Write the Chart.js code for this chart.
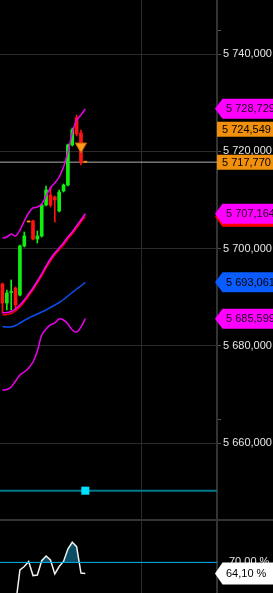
<!DOCTYPE html>
<html><head><meta charset="utf-8">
<script src="https://cdn.jsdelivr.net/npm/chart.js@4/dist/chart.umd.min.js"></script>
<style>
html,body{margin:0;padding:0;background:#000;width:273px;height:593px;overflow:hidden}
#wrap{position:relative;width:273px;height:593px;background:#000}
#c1{position:absolute;left:0;top:0;width:273px;height:519px}
#sep{position:absolute;left:0;top:519px;width:273px;height:2px;background:#333}
#c2{position:absolute;left:0;top:521px;width:273px;height:72px}
</style></head><body>
<div id="wrap">
<canvas id="c1" width="273" height="519"></canvas>
<div id="sep"></div>
<canvas id="c2" width="273" height="72"></canvas>
</div>
<script>
// ---------- data ----------
const candleIndex = [0,1,2,3,4,5,6,7,8,9,10,11,12,13,14,15,16,17,18,19];
const opens  = [5692720,5688820,5690980,5691900,5690460,5700540,5705470,5705670,5701970,5702590,5708960,5711020,5710610,5707730,5711840,5713070,5721300,5726850,5723760,5717770];
const highs  = [5692930,5691490,5693550,5692110,5700740,5703410,5705470,5705880,5703620,5709170,5712870,5712660,5710810,5712050,5713280,5721500,5724790,5727460,5724380,5717900];
const lows   = [5686760,5687380,5687380,5687380,5690260,5700330,5705470,5701770,5701150,5702390,5708760,5708550,5705470,5707520,5711630,5712870,5721090,5723150,5717180,5717700];
const closes = [5688820,5690870,5691080,5688410,5700540,5702590,5705470,5701970,5702590,5708960,5712050,5708960,5709990,5711630,5713070,5721300,5724380,5723560,5717770,5717770];

const upperBand  = [5702180,5702390,5703000,5702590,5703820,5705670,5707320,5708350,5708550,5709170,5710810,5712460,5713480,5714720,5716770,5719860,5723760,5726430,5727460,5728729];
const middleBand = [5686760,5686870,5687070,5687590,5688410,5689440,5690670,5691900,5693340,5694780,5696420,5697860,5699100,5700120,5701150,5702390,5703410,5704650,5705880,5707164];
const redLine    = [5686360,5686470,5686670,5687190,5688010,5689040,5690270,5691500,5692940,5694380,5696020,5697460,5698700,5699720,5700750,5701990,5703010,5704250,5705480,5706560];
const blueLine   = [5683950,5683890,5683890,5684190,5684710,5685220,5685740,5686150,5686560,5686970,5687380,5687890,5688410,5688920,5689540,5690260,5690980,5691700,5692310,5693061];
const lowerBand  = [5670940,5671040,5671550,5672790,5674020,5674640,5675460,5676690,5678950,5682240,5683470,5684300,5684710,5685530,5685320,5684500,5683270,5682860,5683890,5685599];

const oscillator = [null,null,null,47.4,66.0,67.8,70.5,63.0,63.3,70.9,73.4,71.3,63.9,67.8,70.5,77.1,80.7,78.4,64.3,64.1];
const oscLevel = [70];

const priceTicks = [5740000,5720000,5700000,5680000,5660000];
const minorPriceTicks = [5745000,5665000];
const timeGrid = [31.83];
const extraTags = [5724549];
const markerLevel = [5650240];
const markerIndex = [19];
const signalIndex = [18];
const signalValue = [5721030];

// ---------- scale ranges ----------
const xMin = -0.57, xMax = 49.2;
const yMin = 5644420, yMax = 5751100;
const oMin = 53.72, oMax = 92.02;

const FONT = "'Liberation Sans', Arial, sans-serif";
Chart.defaults.font.family = FONT;
Chart.defaults.font.size = 11;

function fmtPrice(v){const s=Math.round(v).toString();return s[0]+' '+s.slice(1,4)+','+s.slice(4);}
function fmtPct(v){return v.toFixed(2).replace('.',',')+' %';}

const GREEN='#10f010', RED='#ff1212', ORANGE='#ff8c00';
const candleColor = candleIndex.map(i => closes[i]>opens[i]?GREEN:(closes[i]<opens[i]?RED:ORANGE));

function drawTag(ctx, area, y, text, bg, fg, shape, hh){
  const r = area.right;
  ctx.save();
  ctx.fillStyle = bg;
  ctx.beginPath();
  if(shape==='arrow'){
    const h=hh||10;
    ctx.moveTo(r-2, y);
    ctx.lineTo(r+5.5, y-h);
    ctx.lineTo(273, y-h);
    ctx.lineTo(273, y+h);
    ctx.lineTo(r+5.5, y+h);
    ctx.closePath();
  } else {
    ctx.rect(r, y-7.5, 273-r, 15);
  }
  ctx.fill();
  if(text){
    ctx.fillStyle = fg;
    ctx.font = '11px '+FONT;
    ctx.textBaseline = 'middle';
    ctx.textAlign = 'left';
    ctx.fillText(text, shape==='arrow'? r+9 : r+5, y+0.5);
  }
  ctx.restore();
}

const priceTagPlugin = {
  id:'priceTags',
  afterDraw(chart){
    const ctx=chart.ctx, y=chart.scales.y, a=chart.chartArea;
    ctx.save(); ctx.strokeStyle='#555'; ctx.lineWidth=1;
    minorPriceTicks.forEach(v=>{const p=Math.round(y.getPixelForValue(v))+0.5;ctx.beginPath();ctx.moveTo(a.right+1,p);ctx.lineTo(a.right+4,p);ctx.stroke();});
    ctx.restore();
    const last = candleIndex.length-1;
    drawTag(ctx,a,y.getPixelForValue(redLine[last]),'','#ff0000','#000','arrow');
    drawTag(ctx,a,y.getPixelForValue(middleBand[last]),fmtPrice(middleBand[last]),'#ff00ff','#1a001a','arrow');
    drawTag(ctx,a,y.getPixelForValue(upperBand[last]),fmtPrice(upperBand[last]),'#ff00ff','#1a001a','arrow');
    drawTag(ctx,a,y.getPixelForValue(lowerBand[last]),fmtPrice(lowerBand[last]),'#ff00ff','#1a001a','arrow');
    drawTag(ctx,a,y.getPixelForValue(blueLine[last]),fmtPrice(blueLine[last]),'#0a5cff','#000','arrow');
    extraTags.forEach(v=>drawTag(ctx,a,y.getPixelForValue(v),fmtPrice(v),'#f0900c','#000','box'));
    drawTag(ctx,a,y.getPixelForValue(closes[last]),fmtPrice(closes[last]),'#f0900c','#000','box');
  }
};

const lineDs = (data, color, w, order) => ({type:'line', data:candleIndex.map((x,i)=>({x, y:data[i]})), borderColor:color, borderWidth:w, pointRadius:0, tension:0.3, order});

const xScale = {type:'linear', min:xMin, max:xMax, offset:false,
  grid:{color:'#2b2b2b', lineWidth:1, drawTicks:false, offset:false},
  border:{display:false}, ticks:{display:false},
  afterBuildTicks:s=>{s.ticks=timeGrid.map(v=>({value:v}));},
  afterFit:s=>{s.height=0;s.paddingLeft=0;s.paddingRight=0;}};

new Chart(document.getElementById('c1'), {
  type:'bar',
  data:{datasets:[
    {type:'line', data:[{x:xMin,y:closes[closes.length-1]},{x:xMax,y:closes[closes.length-1]}], borderColor:'#b0b0b0', borderWidth:1, pointRadius:0, order:9},
    {type:'line', data:[{x:xMin,y:markerLevel[0]},{x:xMax,y:markerLevel[0]}], borderColor:'#00788c', borderWidth:2, pointRadius:0, order:8},
    {type:'line', showLine:false, data:markerIndex.map(x=>({x, y:markerLevel[0]})), pointStyle:'rect', pointRadius:5.7, backgroundColor:'#00e0ff', borderWidth:0, order:0},
    {type:'bar', data:candleIndex.map((x,i)=>({x, y:[lows[i],highs[i]]})), backgroundColor:candleColor, barThickness:1, minBarLength:1, grouped:false, order:6},
    {type:'bar', data:candleIndex.map((x,i)=>({x, y:[opens[i],closes[i]]})), backgroundColor:candleColor, barThickness:3, minBarLength:1, grouped:false, order:5},
    lineDs(lowerBand,'#ee00ee',1.5,3),
    lineDs(blueLine,'#0a50f0',1.5,3),
    lineDs(redLine,'#ee0000',1.5,3),
    lineDs(middleBand,'#ff00ff',1.5,2),
    lineDs(upperBand,'#ee00ee',1.5,2),
    {type:'line', showLine:false, data:signalIndex.map((x,k)=>({x, y:signalValue[k]})), pointStyle:'triangle', rotation:180, pointRadius:6.5, backgroundColor:'#ff9a1a', borderColor:'#c86400', borderWidth:1, order:0}
  ]},
  options:{
    responsive:false, animation:false, events:[],
    layout:{padding:0, autoPadding:false},
    plugins:{legend:{display:false}, tooltip:{enabled:false}},
    scales:{
      x:xScale,
      y:{type:'linear', position:'right', min:yMin, max:yMax,
         grid:{color:'#2b2b2b', lineWidth:1, tickLength:4, tickColor:'#555'},
         border:{color:'#333', width:2},
         ticks:{color:'#e6e6e6', padding:2, font:{size:11}, callback:v=>fmtPrice(v)},
         afterBuildTicks:s=>{s.ticks=priceTicks.map(v=>({value:v}));},
         afterFit:s=>{s.width=56;s.paddingTop=0;s.paddingBottom=0;}}
    }
  },
  plugins:[priceTagPlugin]
});

const oscTagPlugin = {
  id:'oscTags',
  afterDraw(chart){
    const ctx=chart.ctx, y=chart.scales.y, a=chart.chartArea;
    const last = oscillator[oscillator.length-1];
    drawTag(ctx,a,y.getPixelForValue(last),fmtPct(last),'#ffffff','#000','arrow',11);
  }
};

new Chart(document.getElementById('c2'), {
  type:'line',
  data:{datasets:[
    {data:candleIndex.map((x,i)=>({x, y:oscillator[i]})), borderColor:'#f0f0f0', borderWidth:1.5, pointRadius:0, tension:0,
     fill:{target:{value:oscLevel[0]}, above:'#0a4d63', below:'rgba(0,0,0,0)'}, order:2},
    {data:[{x:xMin,y:oscLevel[0]},{x:xMax,y:oscLevel[0]}], borderColor:'#00b4f0', borderWidth:1, pointRadius:0, fill:false, order:1}
  ]},
  options:{
    responsive:false, animation:false, events:[],
    layout:{padding:0, autoPadding:false},
    plugins:{legend:{display:false}, tooltip:{enabled:false}},
    scales:{
      x:xScale,
      y:{type:'linear', position:'right', min:oMin, max:oMax,
         grid:{display:false, drawTicks:false},
         border:{display:true, color:'#333', width:2},
         ticks:{color:'#e6e6e6', padding:12, font:{size:11}, callback:v=>fmtPct(v)},
         afterBuildTicks:s=>{s.ticks=oscLevel.map(v=>({value:v}));},
         afterFit:s=>{s.width=56;s.paddingTop=0;s.paddingBottom=0;}}
    }
  },
  plugins:[oscTagPlugin]
});
</script>
</body></html>
